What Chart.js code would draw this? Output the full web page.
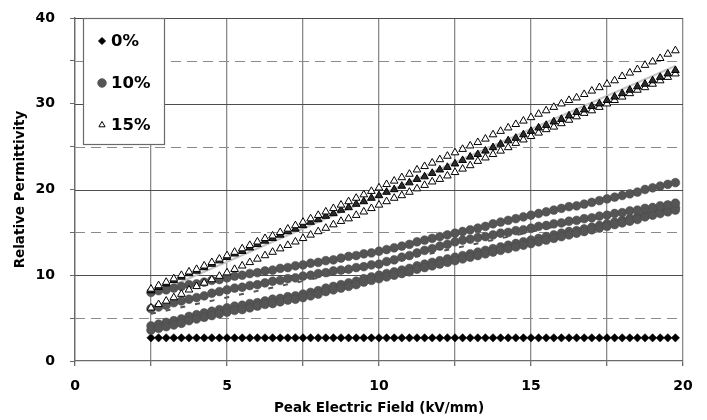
<!DOCTYPE html>
<html>
<head>
<meta charset="utf-8">
<script src="https://cdn.jsdelivr.net/npm/chart.js@4.4.0/dist/chart.umd.min.js"></script>
<style>
  html, body { margin: 0; padding: 0; background: #fff; }
  #wrap { width: 707px; height: 420px; }
</style>
</head>
<body>
<div id="wrap"><canvas id="permChart"></canvas></div>
<script>
// Peak electric field (kV/mm), shared by every measured series
const fieldKV = [
  2.5, 2.75, 3, 3.25, 3.5, 3.75, 4, 4.25, 4.5, 4.75,
  5, 5.25, 5.5, 5.75, 6, 6.25, 6.5, 6.75, 7, 7.25,
  7.5, 7.75, 8, 8.25, 8.5, 8.75, 9, 9.25, 9.5, 9.75,
  10, 10.25, 10.5, 10.75, 11, 11.25, 11.5, 11.75, 12, 12.25,
  12.5, 12.75, 13, 13.25, 13.5, 13.75, 14, 14.25, 14.5, 14.75,
  15, 15.25, 15.5, 15.75, 16, 16.25, 16.5, 16.75, 17, 17.25,
  17.5, 17.75, 18, 18.25, 18.5, 18.75, 19, 19.25, 19.5, 19.75
];

// 0% filler
const perm0 = [
  2.7, 2.7, 2.7, 2.7, 2.7, 2.7, 2.7, 2.7, 2.7, 2.7,
  2.7, 2.7, 2.7, 2.7, 2.7, 2.7, 2.7, 2.7, 2.7, 2.7,
  2.7, 2.7, 2.7, 2.7, 2.7, 2.7, 2.7, 2.7, 2.7, 2.7,
  2.7, 2.7, 2.7, 2.7, 2.7, 2.7, 2.7, 2.7, 2.7, 2.7,
  2.7, 2.7, 2.7, 2.7, 2.7, 2.7, 2.7, 2.7, 2.7, 2.7,
  2.7, 2.7, 2.7, 2.7, 2.7, 2.7, 2.7, 2.7, 2.7, 2.7,
  2.7, 2.7, 2.7, 2.7, 2.7, 2.7, 2.7, 2.7, 2.7, 2.7
];

// 10% filler, four samples
const perm10a = [
  8.0, 8.2, 8.3, 8.5, 8.7, 8.9, 9.0, 9.2, 9.4, 9.5,
  9.7, 9.9, 10.0, 10.2, 10.3, 10.5, 10.6, 10.8, 10.9, 11.1,
  11.2, 11.4, 11.5, 11.7, 11.8, 12.0, 12.2, 12.3, 12.5, 12.6,
  12.8, 13.0, 13.2, 13.4, 13.6, 13.9, 14.1, 14.3, 14.5, 14.7,
  14.9, 15.1, 15.3, 15.5, 15.7, 16.0, 16.2, 16.4, 16.6, 16.8,
  17.0, 17.2, 17.4, 17.6, 17.8, 18.0, 18.1, 18.3, 18.5, 18.7,
  18.9, 19.1, 19.3, 19.5, 19.7, 20.0, 20.2, 20.4, 20.6, 20.8
];
const perm10b = [
  6.1, 6.3, 6.5, 6.8, 7.0, 7.2, 7.4, 7.6, 7.9, 8.1,
  8.3, 8.5, 8.6, 8.8, 8.9, 9.1, 9.3, 9.4, 9.6, 9.7,
  9.9, 10.0, 10.2, 10.3, 10.5, 10.6, 10.7, 10.9, 11.0, 11.2,
  11.3, 11.6, 11.8, 12.1, 12.3, 12.6, 12.9, 13.1, 13.4, 13.6,
  13.9, 14.1, 14.2, 14.4, 14.5, 14.7, 14.9, 15.0, 15.2, 15.3,
  15.5, 15.7, 15.8, 16.0, 16.1, 16.3, 16.4, 16.6, 16.7, 16.9,
  17.0, 17.2, 17.3, 17.5, 17.6, 17.8, 17.9, 18.1, 18.2, 18.4
];
const perm10c = [
  3.6, 3.8, 4.0, 4.2, 4.4, 4.7, 4.9, 5.1, 5.3, 5.5,
  5.7, 5.9, 6.0, 6.2, 6.4, 6.6, 6.7, 6.9, 7.1, 7.2,
  7.4, 7.6, 7.8, 8.1, 8.3, 8.5, 8.7, 8.9, 9.2, 9.4,
  9.6, 9.8, 10.0, 10.2, 10.4, 10.7, 10.9, 11.1, 11.3, 11.5,
  11.7, 11.9, 12.1, 12.3, 12.5, 12.7, 12.9, 13.1, 13.3, 13.5,
  13.7, 13.9, 14.1, 14.3, 14.5, 14.7, 14.9, 15.1, 15.3, 15.5,
  15.7, 15.9, 16.1, 16.3, 16.5, 16.8, 17.0, 17.2, 17.4, 17.6
];
const perm10d = [
  4.1, 4.3, 4.5, 4.7, 4.9, 5.2, 5.4, 5.6, 5.8, 6.0,
  6.2, 6.4, 6.5, 6.7, 6.8, 7.0, 7.2, 7.3, 7.5, 7.6,
  7.8, 8.0, 8.2, 8.5, 8.7, 8.9, 9.1, 9.3, 9.6, 9.8,
  10.0, 10.2, 10.4, 10.6, 10.8, 11.1, 11.3, 11.5, 11.7, 11.9,
  12.1, 12.3, 12.5, 12.7, 12.9, 13.1, 13.3, 13.5, 13.7, 13.9,
  14.1, 14.3, 14.5, 14.7, 14.9, 15.1, 15.2, 15.4, 15.6, 15.8,
  16.0, 16.2, 16.4, 16.6, 16.8, 17.1, 17.3, 17.5, 17.7, 17.9
];

// 15% filler, three samples
const perm15a = [
  8.4, 8.8, 9.2, 9.6, 10.0, 10.4, 10.7, 11.1, 11.5, 11.9,
  12.3, 12.7, 13.1, 13.5, 13.9, 14.3, 14.6, 15.0, 15.4, 15.8,
  16.2, 16.6, 17.0, 17.4, 17.8, 18.2, 18.6, 19.0, 19.4, 19.8,
  20.2, 20.6, 21.0, 21.4, 21.8, 22.3, 22.7, 23.1, 23.5, 23.9,
  24.3, 24.7, 25.1, 25.5, 25.9, 26.4, 26.8, 27.2, 27.6, 28.0,
  28.4, 28.8, 29.2, 29.6, 30.0, 30.4, 30.7, 31.1, 31.5, 31.9,
  32.3, 32.7, 33.2, 33.6, 34.0, 34.5, 34.9, 35.3, 35.8, 36.2
];
const perm15b = [
  8.2, 8.6, 9.0, 9.4, 9.8, 10.2, 10.5, 10.9, 11.3, 11.7,
  12.1, 12.5, 12.8, 13.2, 13.6, 14.0, 14.3, 14.7, 15.1, 15.4,
  15.8, 16.2, 16.5, 16.9, 17.2, 17.6, 17.9, 18.3, 18.6, 19.0,
  19.3, 19.7, 20.0, 20.4, 20.8, 21.2, 21.5, 21.9, 22.3, 22.6,
  23.0, 23.4, 23.8, 24.1, 24.5, 24.9, 25.3, 25.7, 26.0, 26.4,
  26.8, 27.2, 27.5, 27.9, 28.2, 28.6, 29.0, 29.3, 29.7, 30.0,
  30.4, 30.8, 31.2, 31.6, 32.0, 32.3, 32.7, 33.1, 33.5, 33.9
];
const perm15c = [
  6.2, 6.6, 7.0, 7.4, 7.8, 8.3, 8.7, 9.1, 9.5, 9.9,
  10.3, 10.7, 11.1, 11.5, 11.9, 12.3, 12.7, 13.1, 13.5, 13.9,
  14.3, 14.7, 15.1, 15.5, 15.9, 16.3, 16.6, 17.0, 17.4, 17.8,
  18.2, 18.6, 19.0, 19.3, 19.7, 20.1, 20.5, 20.9, 21.2, 21.6,
  22.0, 22.4, 22.8, 23.3, 23.7, 24.1, 24.5, 24.9, 25.4, 25.8,
  26.2, 26.6, 27.0, 27.3, 27.7, 28.1, 28.5, 28.9, 29.2, 29.6,
  30.0, 30.4, 30.8, 31.2, 31.6, 31.9, 32.3, 32.7, 33.1, 33.5
];

// straight fit lines drawn under the markers
const fitX = [2.5, 19.75];
const fit10 = [5.5, 18.7];
const fit15 = [7.7, 34.4];

const legendLabels = ['0%', '10%', '15%'];

const FONT = '"DejaVu Sans", Verdana, sans-serif';

function pts(xs, ys) {
    return xs.map((x, i) => ({ x: x, y: ys[i] }));
}

function circleSet(label, ys, order) {
    return {
        label: label,
        data: pts(fieldKV, ys),
        pointStyle: 'circle',
        pointRadius: 4.4,
        backgroundColor: '#555555',
        borderColor: '#4a4a4a',
        borderWidth: 0.5,
        order: order
    };
}

function triangleSet(label, ys, fill, order) {
    return {
        label: label,
        data: pts(fieldKV, ys),
        pointStyle: 'triangle',
        pointRadius: 4.4,
        backgroundColor: fill,
        borderColor: '#000000',
        borderWidth: 1,
        order: order
    };
}

// dashed grid every 5, solid every 10
const gridPlugin = {
    id: 'permGrid',
    beforeDatasetsDraw(chart) {
        const { ctx, chartArea, scales } = chart;
        ctx.save();
        scales.y.ticks.forEach(t => {
            if (t.value === 0) return;
            const py = Math.round(scales.y.getPixelForValue(t.value)) + 0.5;
            ctx.beginPath();
            if (t.value % 10 === 0) {
                ctx.setLineDash([]);
                ctx.strokeStyle = '#4d4d4d';
            } else {
                ctx.setLineDash([10, 6]);
                ctx.strokeStyle = '#8a8a8a';
            }
            ctx.lineWidth = 1.2;
            ctx.moveTo(chartArea.left, py);
            ctx.lineTo(chartArea.right, py);
            ctx.stroke();
        });
        ctx.restore();
    }
};

// boxed legend sitting inside the plot, top left
const legendPlugin = {
    id: 'permLegend',
    afterDraw(chart) {
        const { ctx, chartArea } = chart;
        const left = chartArea.left + 8;
        const top = chartArea.top;
        ctx.save();
        ctx.setLineDash([]);
        ctx.fillStyle = '#ffffff';
        ctx.fillRect(left, top, 81, 126);
        ctx.strokeStyle = '#6a6a6a';
        ctx.lineWidth = 1.2;
        ctx.strokeRect(left + 0.5, top + 0.5, 81, 126);

        const marks = [
            { pointStyle: 'rectRot', radius: 3.5, fill: '#000000', stroke: '#000000' },
            { pointStyle: 'circle', radius: 4.2, fill: '#555555', stroke: '#555555' },
            { pointStyle: 'triangle', radius: 3.6, fill: '#ffffff', stroke: '#000000' }
        ];
        const rowY = [23, 65, 107];
        legendLabels.forEach((lab, i) => {
            const m = marks[i];
            ctx.fillStyle = m.fill;
            ctx.strokeStyle = m.stroke;
            ctx.lineWidth = 1;
            Chart.helpers.drawPoint(ctx, {
                pointStyle: m.pointStyle, radius: m.radius, rotation: 0, borderWidth: 1
            }, left + 19, top + rowY[i]);
            ctx.fillStyle = '#000000';
            ctx.font = 'bold 16.5px ' + FONT;
            ctx.textBaseline = 'middle';
            ctx.textAlign = 'left';
            ctx.fillText(lab, left + 28, top + rowY[i] + 1);
        });
        ctx.restore();
    }
};

const ctx = document.getElementById('permChart').getContext('2d');

new Chart(ctx, {
    type: 'scatter',
    data: {
        datasets: [
            triangleSet('15%', perm15a, '#ffffff', 1),
            triangleSet('15%', perm15b, '#2a2a2a', 2),
            triangleSet('15%', perm15c, '#ffffff', 3),
            circleSet('10%', perm10a, 5),
            circleSet('10%', perm10b, 6),
            circleSet('10%', perm10c, 7),
            circleSet('10%', perm10d, 8),
            {
                label: '0%',
                data: pts(fieldKV, perm0),
                pointStyle: 'rectRot',
                pointRadius: 4.2,
                backgroundColor: '#000000',
                borderColor: '#000000',
                borderWidth: 0.5,
                order: 9
            },
            {
                label: 'fit 15%',
                type: 'line',
                data: pts(fitX, fit15),
                borderColor: '#c4c4c4',
                borderWidth: 2,
                pointRadius: 0,
                order: 10
            },
            {
                label: 'fit 10%',
                type: 'line',
                data: pts(fitX, fit10),
                borderColor: '#555555',
                borderWidth: 2,
                borderDash: [5, 10],
                pointRadius: 0,
                order: 10
            }
        ]
    },
    options: {
        responsive: true,
        maintainAspectRatio: false,
        animation: false,
        layout: {
            padding: { top: 18, right: 24, left: 0, bottom: 0 }
        },
        plugins: {
            legend: { display: false },
            tooltip: { enabled: false }
        },
        scales: {
            x: {
                type: 'linear',
                min: 0,
                max: 20,
                afterFit: scale => {
                    scale.height = 59;
                    scale.paddingLeft = 0;
                    scale.paddingRight = 0;
                },
                ticks: {
                    stepSize: 2.5,
                    autoSkip: false,
                    maxRotation: 0,
                    padding: 12,
                    color: '#000000',
                    font: { family: FONT, size: 14, weight: 'bold' },
                    callback: v => (v % 5 === 0 ? v : '')
                },
                grid: {
                    color: '#8a8a8a',
                    lineWidth: 1.3,
                    tickLength: 5,
                    tickColor: '#6a6a6a'
                },
                border: { color: '#6a6a6a', width: 1.3 },
                title: {
                    display: true,
                    text: 'Peak Electric Field (kV/mm)',
                    color: '#000000',
                    font: { family: FONT, size: 13.5, weight: 'bold' },
                    padding: { top: 0, bottom: 3 }
                }
            },
            y: {
                min: 0,
                max: 40,
                afterFit: scale => {
                    scale.width = 75;
                    scale.paddingTop = 0;
                    scale.paddingBottom = 0;
                },
                ticks: {
                    stepSize: 5,
                    autoSkip: false,
                    padding: 15,
                    color: '#000000',
                    font: { family: FONT, size: 14, weight: 'bold' },
                    callback: v => (v % 10 === 0 ? v : '')
                },
                grid: {
                    drawOnChartArea: false,
                    tickLength: 5,
                    tickColor: '#6a6a6a'
                },
                border: { color: '#6a6a6a', width: 1.3 },
                title: {
                    display: true,
                    text: 'Relative Permittivity',
                    color: '#000000',
                    font: { family: FONT, size: 13.5, weight: 'bold' },
                    padding: { top: 12, bottom: 0 }
                }
            }
        }
    },
    plugins: [gridPlugin, legendPlugin]
});
</script>
</body>
</html>
